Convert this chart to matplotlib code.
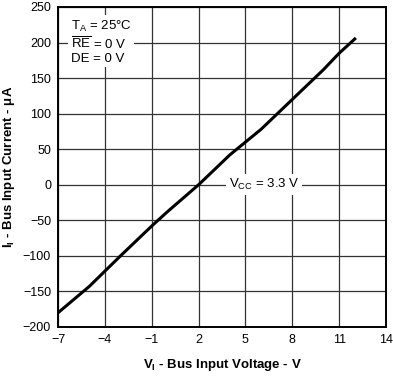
import matplotlib
matplotlib.use("Agg")
import matplotlib.pyplot as plt

plt.rcParams['font.family'] = ['Liberation Sans', 'DejaVu Sans']
plt.rcParams['mathtext.fontset'] = 'custom'
plt.rcParams['mathtext.rm'] = 'Liberation Sans'
plt.rcParams['mathtext.it'] = 'Liberation Sans:italic'
plt.rcParams['mathtext.bf'] = 'Liberation Sans:bold'

voltage = [-7, -5, -3, -1, 0, 2, 4, 6, 8, 10, 11, 12]
current = [-180, -143, -100, -58, -38, 0, 42, 78, 120, 162, 185, 205]
xticks = [-7, -4, -1, 2, 5, 8, 11, 14]
yticks = [-200, -150, -100, -50, 0, 50, 100, 150, 200, 250]

fig = plt.figure(figsize=(3.93, 3.82), dpi=100)
ax = fig.add_axes([0.1476, 0.144, 0.8346, 0.8377])
ax.set_xlim(-7, 14)
ax.set_ylim(-200, 250)
ax.set_xticks(xticks)
ax.set_yticks(yticks)
ax.set_xticklabels(['\u2212' + str(-t) if t < 0 else str(t) for t in xticks])
ax.set_yticklabels(['\u2212' + str(-t) if t < 0 else str(t) for t in yticks])
ax.grid(True, color='#333333', linewidth=0.9)
ax.set_axisbelow(True)
ax.tick_params(length=0, labelsize=9, pad=5, colors='black')
for s in ax.spines.values():
    s.set_linewidth(1.4)

ax.plot(voltage, current, color='black', linewidth=2.2, zorder=3)

ax.text(-6.2, 233, 'T$_{\\rm A}$ = 25°C\n$\\overline{\\rm RE}$ = 0 V\nDE = 0 V',
        fontsize=9.5, va='top', ha='left', linespacing=1.1,
        bbox=dict(facecolor='white', edgecolor='none', pad=2), zorder=4)
ax.text(6.2, 0, 'V$_{\\rm CC}$ = 3.3 V', fontsize=9.5, va='center', ha='center',
        bbox=dict(facecolor='white', edgecolor='none', pad=2), zorder=4)

ax.set_xlabel('V$_{\\bf I}$ - Bus Input Voltage - V', fontsize=9.5, fontweight='bold', labelpad=8)
ax.set_ylabel('I$_{\\bf I}$ - Bus Input Current - \u03bcA', fontsize=9.5, fontweight='bold', labelpad=4)

fig.savefig('out.png', dpi=100)
